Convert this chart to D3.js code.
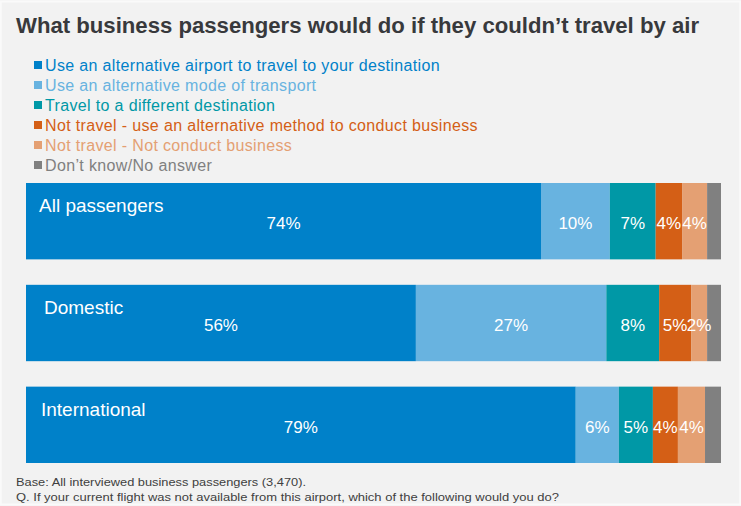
<!DOCTYPE html>
<html>
<head>
<meta charset="utf-8">
<script src="https://cdn.jsdelivr.net/npm/d3@7"></script>
<style>
  html, body { margin: 0; padding: 0; background: #f2f2f2; }
  svg { display: block; font-family: "Liberation Sans", Arial, sans-serif; }
</style>
</head>
<body>
<svg id="chart" width="741" height="506"></svg>
<script>
// Survey groups (one stacked bar each)
const groups = ["All passengers", "Domestic", "International"];

// Answer options, in stacking order
const answers = [
  "Use an alternative airport to travel to your destination",
  "Use an alternative mode of transport",
  "Travel to a different destination",
  "Not travel - use an alternative method to conduct business",
  "Not travel - Not conduct business",
  "Don\u2019t know/No answer"
];

// Share of respondents (%) per answer, one array per group
const allPassengers = [74.1, 9.9, 6.6, 3.8, 3.6, 2.0];
const domestic      = [56.1, 27.4, 7.6, 4.6, 2.3, 2.0];
const international = [79.1, 6.2, 4.9, 3.6, 3.9, 2.3];

// Which answers carry a value label inside the bar
const labelled = [true, true, true, true, true, false];

const colors = ["#0081c9", "#68b3e0", "#0098a6", "#d45f16", "#e4a073", "#808080"];

const titleText = "What business passengers would do if they couldn\u2019t travel by air";
const footnotes = [
  "Base: All interviewed business passengers (3,470).",
  "Q. If your current flight was not available from this airport, which of the following would you do?"
];

const seriesByGroup = [allPassengers, domestic, international];

const svg = d3.select("#chart");
const W = 741, H = 506;

svg.append("rect")
  .attr("x", 0.75).attr("y", 1.5)
  .attr("width", W - 1.5).attr("height", H - 3)
  .attr("fill", "#f2f2f2")
  .attr("stroke", "#fafafa")
  .attr("stroke-width", 2);

// Title
svg.append("text")
  .attr("x", 16).attr("y", 32.5)
  .attr("fill", "#38393c")
  .attr("font-size", 22)
  .attr("font-weight", "bold")
  .attr("textLength", 683)
  .attr("lengthAdjust", "spacingAndGlyphs")
  .text(titleText);

// Legend
const legend = svg.append("g").attr("transform", "translate(34,0)");
answers.forEach((a, i) => {
  const cy = 65 + i * 20;
  legend.append("rect")
    .attr("x", 0).attr("y", cy - 4)
    .attr("width", 8).attr("height", 8)
    .attr("fill", colors[i]);
  legend.append("text")
    .attr("x", 11).attr("y", cy)
    .attr("dy", "0.36em")
    .attr("fill", colors[i])
    .attr("font-size", 16)
    .attr("letter-spacing", 0.35)
    .text(a);
});

// Scales
const x = d3.scaleLinear().domain([0, 100]).range([26, 721]);
const y = d3.scaleBand().domain(groups).range([183, 463]).paddingInner(0.25);

// Stacked data
const rows = groups.map((g, gi) => {
  let acc = 0;
  return seriesByGroup[gi].map((v, ai) => {
    const seg = { group: g, answer: ai, value: v, x0: acc, x1: acc + v };
    acc += v;
    return seg;
  });
});

const barG = svg.append("g");
rows.forEach(segs => {
  const g = barG.append("g");
  g.selectAll("rect")
    .data(segs)
    .join("rect")
    .attr("x", d => x(d.x0))
    .attr("y", d => y(d.group))
    .attr("width", d => x(d.x1) - x(d.x0))
    .attr("height", y.bandwidth())
    .attr("fill", d => colors[d.answer]);

  g.selectAll("text.val")
    .data(segs.filter(d => labelled[d.answer]))
    .join("text")
    .attr("class", "val")
    .attr("x", d => (x(d.x0) + x(d.x1)) / 2)
    .attr("y", d => y(d.group) + y.bandwidth() / 2 + 2)
    .attr("dy", "0.35em")
    .attr("text-anchor", "middle")
    .attr("fill", "#ffffff")
    .attr("font-size", 17)
    .text(d => Math.round(d.value) + "%");
});

// Group names inside the bars
svg.append("g").selectAll("text")
  .data(groups)
  .join("text")
  .attr("x", (d, i) => [39, 44, 41][i])
  .attr("y", d => y(d) + 29)
  .attr("fill", "#ffffff")
  .attr("font-size", 19)
  .text(d => d);

// Footnotes
svg.append("g").selectAll("text")
  .data(footnotes)
  .join("text")
  .attr("x", 16)
  .attr("y", (d, i) => 486 + i * 15)
  .attr("fill", "#404040")
  .attr("font-size", 11.5)
  .attr("textLength", (d, i) => i === 0 ? 290 : 543)
  .attr("lengthAdjust", "spacingAndGlyphs")
  .text(d => d);
</script>
</body>
</html>
